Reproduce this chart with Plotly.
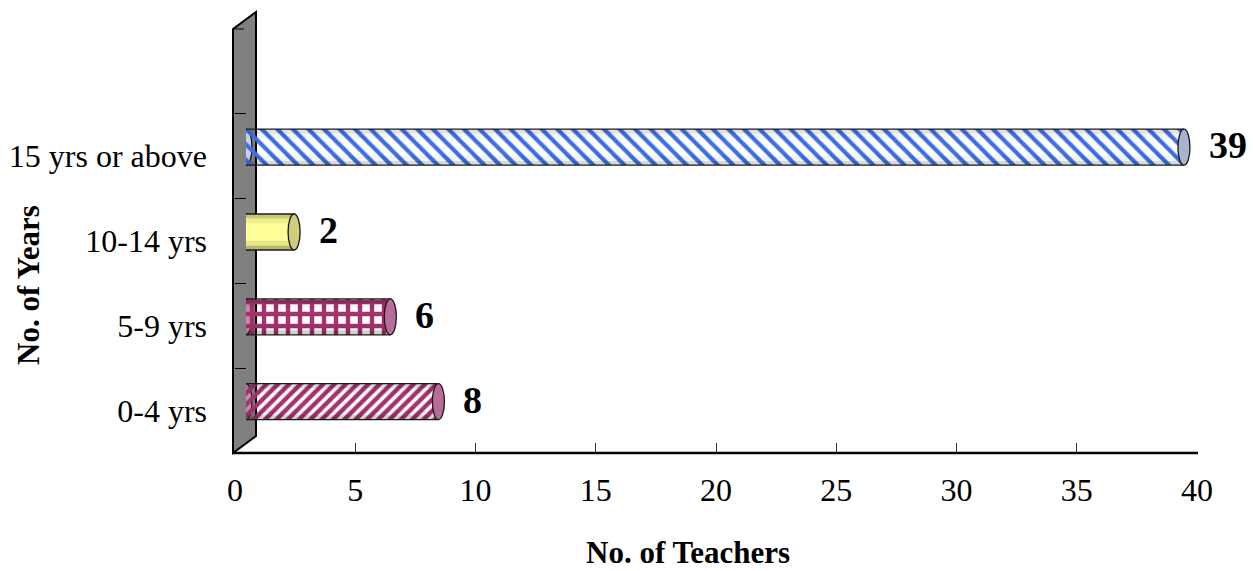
import plotly.graph_objects as go

# ---- data ----
YEARS = ["0-4 yrs", "5-9 yrs", "10-14 yrs", "15 yrs or above"]
TEACHERS = [8, 6, 2, 39]
X_TICKS = [0, 5, 10, 15, 20, 25, 30, 35, 40]
X_RANGE = [0, 40]

# ---- styling per bar ----
BAR_COLOR = ["#A3326E", "#A3326E", "#FFFF99", "#3A6FE6"]
BAR_BG = ["#FFFFFF", "#FFFFFF", "#FFFF99", "#FFFFFF"]
BAR_SHAPE = ["/", "+", "", "\\"]
BAR_SIZE = [8, 12, 8, 11]
BAR_SOLID = [0.55, 0.6, 0.3, 0.38]
CAP_FILL = ["#B86C98", "#B86C98", "#CDCD7A", "#A9B4CC"]
LEFT_FILL = ["#C98AAE", "#C98AAE", "#F4F4A0", "#C9D6F2"]
SHADE = [0.10, 0.10, 0.16, 0.08]       # edge darkening of each cylinder

FONT = "Times New Roman, Liberation Serif, serif"
W, H = 1253, 571
L, R, T, B = 235, 45, 20, 118          # margins (px)
PW, PH = W - L - R, H - T - B          # paper size (px)
AX_X1 = 1197                           # right end of value axis (px)
DX, DY = 11, 9                         # depth offset of bars (px)
BAR_W = 0.425                          # bar thickness (category units)
CAP_HW = 0.25                          # half width of end caps (value units)

cats = YEARS + [" "]
n = len(cats)


def px_x(px):
    return (px - L) / PW


def px_y(py):
    return (H - B - py) / PH


fig = go.Figure()

# invisible host trace so the front axes get drawn with ticks and labels
fig.add_trace(go.Scatter(
    x=TEACHERS, y=YEARS, mode="markers", marker=dict(opacity=0),
    xaxis="x", yaxis="y", hoverinfo="skip", showlegend=False))

fig.add_trace(go.Bar(
    y=YEARS, x=TEACHERS, orientation="h",
    xaxis="x2", yaxis="y2", width=BAR_W,
    marker=dict(
        color=BAR_COLOR,
        line=dict(width=0),
        pattern=dict(shape=BAR_SHAPE, fgcolor=BAR_COLOR, bgcolor=BAR_BG,
                     size=BAR_SIZE, solidity=BAR_SOLID, fillmode="replace"),
    ),
    hoverinfo="skip", showlegend=False,
))

shapes = []

# back wall of the 3-D frame
wall_path = (f"M {px_x(233)} {px_y(29)} L {px_x(256)} {px_y(12)} "
             f"L {px_x(256)} {px_y(436)} L {px_x(233)} {px_y(453)} Z")
shapes.append(dict(type="path", xref="paper", yref="paper", path=wall_path,
                   fillcolor="#808080", line=dict(color="#000000", width=2),
                   layer="below"))
# top tick of the wall
shapes.append(dict(type="line", xref="paper", yref="paper",
                   x0=px_x(233), x1=px_x(244), y0=px_y(29), y1=px_y(29),
                   line=dict(color="#000000", width=1)))
# floor baseline
shapes.append(dict(type="line", xref="paper", yref="paper",
                   x0=px_x(233), x1=px_x(AX_X1 + 1), y0=px_y(453), y1=px_y(453),
                   line=dict(color="#000000", width=2.5)))

OUT = dict(color="#1a1a1a", width=1.3)
for i, (cat, v) in enumerate(zip(YEARS, TEACHERS)):
    idx = cats.index(cat)
    top, bot = idx + BAR_W / 2, idx - BAR_W / 2
    # rounded left end (half hidden behind the bar)
    shapes.append(dict(type="circle", xref="x2", yref="y2",
                       x0=-CAP_HW, x1=CAP_HW, y0=bot, y1=top,
                       fillcolor=LEFT_FILL[i], line=OUT, layer="below"))
    # cylinder shading near the edges
    for frac, k in ((0.12, 1.0), (0.26, 0.45)):
        a = SHADE[i] * k
        shapes.append(dict(type="rect", xref="x2", yref="y2", x0=0, x1=v,
                           y0=top - frac * BAR_W, y1=top,
                           fillcolor=f"rgba(0,0,0,{a:.3f})", line=dict(width=0)))
        shapes.append(dict(type="rect", xref="x2", yref="y2", x0=0, x1=v,
                           y0=bot, y1=bot + frac * BAR_W,
                           fillcolor=f"rgba(0,0,0,{a * 1.3:.3f})", line=dict(width=0)))
    # outline of the cylinder body
    for yy in (top, bot):
        shapes.append(dict(type="line", xref="x2", yref="y2", x0=0, x1=v,
                           y0=yy, y1=yy, line=OUT))
    # right end cap
    shapes.append(dict(type="circle", xref="x2", yref="y2",
                       x0=v - CAP_HW, x1=v + CAP_HW, y0=bot, y1=top,
                       fillcolor=CAP_FILL[i], line=OUT))

annotations = []
for cat, v in zip(YEARS, TEACHERS):
    annotations.append(dict(
        x=v, y=cat, xref="x2", yref="y2", text=str(v), showarrow=False,
        xanchor="left", yanchor="middle", xshift=23, yshift=2,
        font=dict(family=FONT, size=38, color="#000000", weight="bold")))

annotations.append(dict(
    x=px_x(688), y=px_y(552), xref="paper", yref="paper",
    text="No. of Teachers", showarrow=False, xanchor="center", yanchor="middle",
    font=dict(family=FONT, size=31, color="#000000", weight="bold")))
annotations.append(dict(
    x=px_x(29), y=px_y(285), xref="paper", yref="paper",
    text="No. of Years", showarrow=False, textangle=-90,
    xanchor="center", yanchor="middle",
    font=dict(family=FONT, size=31, color="#000000", weight="bold")))

x_dom = [0, px_x(AX_X1)]
x2_dom = [px_x(L + DX), min(1.0, px_x(AX_X1 + DX))]
y_dom = [0, px_y(29)]
y2_dom = [px_y(453 - DY), min(1.0, px_y(29 - DY))]

fig.update_layout(
    width=W, height=H,
    margin=dict(l=L, r=R, t=T, b=B, pad=0, autoexpand=False),
    paper_bgcolor="#FFFFFF", plot_bgcolor="rgba(0,0,0,0)",
    font=dict(family=FONT, size=32, color="#000000"),
    xaxis=dict(domain=x_dom, range=X_RANGE, tickvals=X_TICKS,
               ticks="inside", ticklen=10, tickcolor="#333333", tickwidth=1,
               showgrid=False, zeroline=False, showline=False,
               ticklabelstandoff=15, automargin=False,
               tickfont=dict(family=FONT, size=32, color="#000000"),
               anchor="y", fixedrange=True),
    yaxis=dict(domain=y_dom, type="category", categoryorder="array",
               categoryarray=cats, range=[-0.5, n - 0.5],
               ticks="inside", tickson="boundaries", ticklen=11,
               tickcolor="#000000", tickwidth=1,
               showgrid=False, zeroline=False, showline=False,
               ticklabelstandoff=27, automargin=False,
               tickfont=dict(family=FONT, size=32, color="#000000"),
               anchor="x", fixedrange=True),
    xaxis2=dict(domain=x2_dom, range=X_RANGE, visible=False,
                anchor="y2", fixedrange=True, automargin=False),
    yaxis2=dict(domain=y2_dom, type="category", categoryorder="array",
                categoryarray=cats, range=[-0.5, n - 0.5], visible=False,
                anchor="x2", fixedrange=True, automargin=False),
    bargap=0,
    shapes=shapes,
    annotations=annotations,
)

fig.write_html("out.html")
